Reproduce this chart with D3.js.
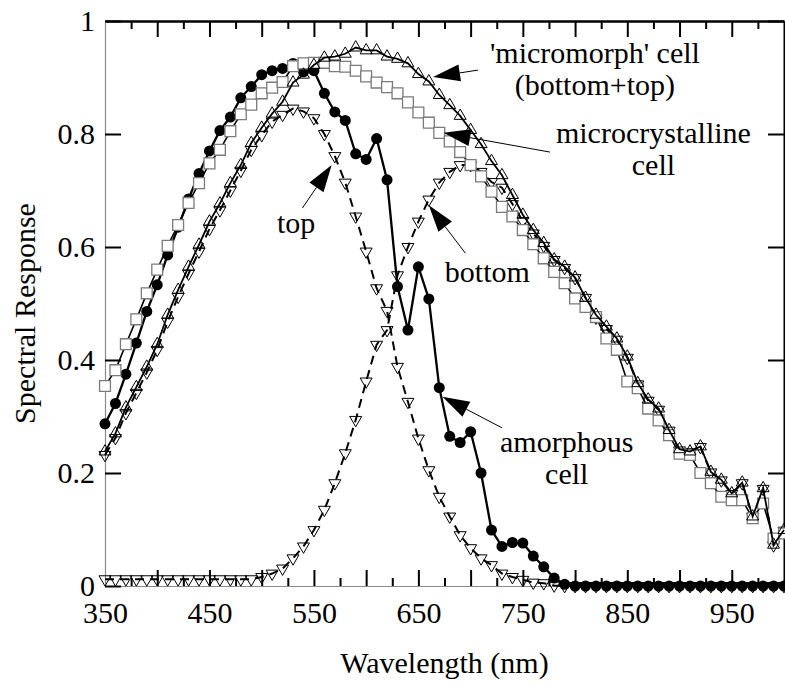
<!DOCTYPE html>
<html>
<head>
<meta charset="utf-8">
<script src="https://cdn.jsdelivr.net/npm/d3@7/dist/d3.min.js"></script>
<style>
  body { margin: 0; background: #fff; }
  svg text {
    font-family: "Liberation Serif", "Times New Roman", Times, Tinos, "Nimbus Roman", "Nimbus Roman No9 L",
      "Noto Serif", "DejaVu Serif", FreeSerif, serif !important;
    fill: #000;
  }
</style>
</head>
<body>
<div id="container"></div>
<script>
/* DATA */
const wavelengths = [350, 360, 370, 380, 390, 400, 410, 420, 430, 440,
  450, 460, 470, 480, 490, 500, 510, 520, 530, 540,
  550, 560, 570, 580, 590, 600, 610, 620, 630, 640,
  650, 660, 670, 680, 690, 700, 710, 720, 730, 740,
  750, 760, 770, 780, 790, 800, 810, 820, 830, 840,
  850, 860, 870, 880, 890, 900, 910, 920, 930, 940,
  950, 960, 970, 980, 990, 1000];

// amorphous cell (filled circles)
const amorphous = [0.287, 0.323, 0.375, 0.430, 0.486, 0.533, 0.586, 0.635, 0.685, 0.730,
  0.770, 0.806, 0.830, 0.864, 0.884, 0.905, 0.912, 0.916, 0.925, 0.910,
  0.912, 0.872, 0.839, 0.824, 0.765, 0.755, 0.792, 0.719, 0.530, 0.453,
  0.565, 0.508, 0.351, 0.265, 0.254, 0.273, 0.200, 0.099, 0.070, 0.077,
  0.076, 0.053, 0.034, 0.014, 0.003, 0, 0, 0, 0, 0,
  0, 0, 0, 0, 0, 0, 0, 0, 0, 0,
  0, 0, 0, 0, 0, 0];

// microcrystalline cell (open squares)
const microcrystalline = [0.354, 0.382, 0.428, 0.472, 0.518, 0.560, 0.602, 0.639, 0.678, 0.713,
  0.748, 0.772, 0.805, 0.835, 0.852, 0.872, 0.882, 0.892, 0.920, 0.925,
  0.926, 0.926, 0.920, 0.919, 0.912, 0.902, 0.891, 0.883, 0.872, 0.856,
  0.838, 0.820, 0.802, 0.787, 0.768, 0.745, 0.725, 0.698, 0.671, 0.654,
  0.630, 0.605, 0.580, 0.556, 0.536, 0.509, 0.494, 0.476, 0.438, 0.418,
  0.362, 0.350, 0.314, 0.293, 0.267, 0.234, 0.232, 0.200, 0.182, 0.158,
  0.152, 0.152, 0.120, 0.146, 0.084, 0.093];

// 'micromorph' cell, bottom+top (up triangles)
const micromorph = [0.238, 0.270, 0.316, 0.352, 0.388, 0.428, 0.480, 0.524, 0.565, 0.604,
  0.645, 0.677, 0.713, 0.745, 0.784, 0.811, 0.836, 0.857, 0.891, 0.905,
  0.922, 0.935, 0.937, 0.942, 0.953, 0.948, 0.948, 0.937, 0.933, 0.925,
  0.906, 0.893, 0.869, 0.851, 0.832, 0.807, 0.782, 0.752, 0.727, 0.692,
  0.657, 0.630, 0.607, 0.578, 0.565, 0.546, 0.510, 0.480, 0.459, 0.438,
  0.406, 0.359, 0.330, 0.314, 0.276, 0.242, 0.238, 0.247, 0.202, 0.188,
  0.164, 0.183, 0.123, 0.173, 0.073, 0.099];

// top cell (down triangles, dashed)
const topCell = [0.232, 0.262, 0.306, 0.342, 0.378, 0.418, 0.468, 0.512, 0.553, 0.592,
  0.632, 0.665, 0.700, 0.735, 0.772, 0.798, 0.822, 0.834, 0.845, 0.840,
  0.828, 0.800, 0.761, 0.714, 0.654, 0.592, 0.527, 0.487, 0.388, 0.326,
  0.261, 0.205, 0.158, 0.123, 0.090, 0.067, 0.049, 0.037, 0.022, 0.016,
  0.011, 0.006, 0.005, 0.001, 0, 0, 0, 0, 0, 0,
  0, 0, 0, 0, 0, 0, 0, 0, 0, 0,
  0, 0, 0, 0, 0, 0];

// bottom cell (down triangles, dashed)
const bottomCell = [0.012, 0.012, 0.012, 0.012, 0.012, 0.012, 0.012, 0.012, 0.012, 0.012,
  0.012, 0.012, 0.012, 0.012, 0.012, 0.016, 0.022, 0.031, 0.049, 0.070,
  0.099, 0.135, 0.182, 0.235, 0.294, 0.362, 0.427, 0.453, 0.550, 0.600,
  0.645, 0.684, 0.714, 0.733, 0.745, 0.745, 0.733, 0.715, 0.705, 0.676,
  0.646, 0.624, 0.602, 0.577, 0.563, 0.545, 0.510, 0.475, 0.455, 0.436,
  0.404, 0.357, 0.328, 0.312, 0.275, 0.240, 0.237, 0.246, 0.201, 0.187,
  0.163, 0.182, 0.122, 0.172, 0.072, 0.098];

// ticks
const xLabelTicks = [350, 450, 550, 650, 750, 850, 950];
const xMajorTicks = [400, 450, 500, 550, 600, 650, 700, 750, 800, 850, 900, 950];
const xMinorTicks = [375, 425, 475, 525, 575, 625, 675, 725, 775, 825, 875, 925, 975];
const yTicks = [0, 0.2, 0.4, 0.6, 0.8, 1];
const yTickLabels = ["0", "0.2", "0.4", "0.6", "0.8", "1"];

/* CONSTANTS */
const width = 785,
  height = 684,
  margin = {top: 21, bottom: 98, left: 105, right: 1},
  fontSize = 30;

/* SVG */
const svg = d3.select("#container")
  .append("svg")
  .attr("width", width)
  .attr("height", height);

/* SCALES */
const xScale = d3.scaleLinear()
  .domain([350, 1000])
  .range([margin.left, width - margin.right]);

const yScale = d3.scaleLinear()
  .domain([0, 1])
  .range([height - margin.bottom, margin.top]);

const x0 = xScale.range()[0], x1 = xScale.range()[1];
const y0 = yScale.range()[0], y1 = yScale.range()[1];

/* AXES */
function styleAxis(g, domainColor, domainWidth) {
  g.attr("font-family", null).attr("font-size", null);
  g.select(".domain").attr("stroke", domainColor).attr("stroke-width", domainWidth);
  g.selectAll(".tick line").attr("stroke", "#000").attr("stroke-width", 2);
  g.selectAll(".tick text")
    .style("font-size", fontSize + "px")
    .attr("fill", "#000");
}

// bottom: major (with labels) + minor
svg.append("g")
  .attr("transform", `translate(0,${y0})`)
  .call(d3.axisBottom(xScale).tickValues(xMinorTicks).tickSize(-8).tickSizeOuter(0).tickFormat(""))
  .call(g => styleAxis(g, "#8a8a8a", 1.2));

svg.append("g")
  .attr("transform", `translate(0,${y0})`)
  .call(d3.axisBottom(xScale).tickValues(xMajorTicks.concat([350])).tickSize(-16).tickSizeOuter(0).tickPadding(16)
    .tickFormat(d => xLabelTicks.includes(d) ? d : ""))
  .call(g => styleAxis(g, "#8a8a8a", 1.2))
  .call(g => g.selectAll(".tick").filter(d => d === 350).select("line").remove());

// top
svg.append("g")
  .attr("transform", `translate(0,${y1})`)
  .call(d3.axisTop(xScale).tickValues(xMinorTicks).tickSize(-8).tickSizeOuter(0).tickFormat(""))
  .call(g => styleAxis(g, "#000", 2));

svg.append("g")
  .attr("transform", `translate(0,${y1})`)
  .call(d3.axisTop(xScale).tickValues(xMajorTicks).tickSize(-16).tickSizeOuter(0).tickFormat(""))
  .call(g => styleAxis(g, "#000", 2));

// left
svg.append("g")
  .attr("transform", `translate(${x0},0)`)
  .call(d3.axisLeft(yScale).tickValues(yTicks).tickSize(-16).tickSizeOuter(0).tickPadding(10)
    .tickFormat((d, i) => yTickLabels[i]))
  .call(g => styleAxis(g, "#8a8a8a", 1.2));

// right
svg.append("g")
  .attr("transform", `translate(${x1},0)`)
  .call(d3.axisRight(yScale).tickValues(yTicks).tickSize(-16).tickSizeOuter(0).tickFormat(""))
  .call(g => styleAxis(g, "#000", 2));

/* SERIES */
const series = [
  {name: "top", values: topCell, symbol: "down", dash: "9,6", lineWidth: 2},
  {name: "bottom", values: bottomCell, symbol: "down", dash: "9,6", lineWidth: 2},
  {name: "amorphous", values: amorphous, symbol: "circle", dash: null, lineWidth: 2.3},
  {name: "microcrystalline", values: microcrystalline, symbol: "square", dash: null, lineWidth: 1.6},
  {name: "micromorph", values: micromorph, symbol: "up", dash: null, lineWidth: 1.8}
];

const line = d3.line()
  .x(d => xScale(d[0]))
  .y(d => yScale(d[1]));

const triangle = d3.symbol().type(d3.symbolTriangle).size(62);
const square = d3.symbol().type(d3.symbolSquare).size(118);

series.forEach(s => {
  const pts = wavelengths.map((w, i) => [w, s.values[i]]);
  const g = svg.append("g").attr("class", s.name);

  g.append("path")
    .datum(pts)
    .attr("d", line)
    .attr("fill", "none")
    .attr("stroke", "#000")
    .attr("stroke-width", s.lineWidth)
    .attr("stroke-dasharray", s.dash);

  const marks = g.selectAll(".mark")
    .data(pts)
    .join(s.symbol === "circle" ? "circle" : "path")
    .attr("class", "mark");

  if (s.symbol === "circle") {
    marks.attr("cx", d => xScale(d[0]))
      .attr("cy", d => yScale(d[1]))
      .attr("r", 5.5)
      .attr("fill", "#000");
  } else if (s.symbol === "square") {
    marks.attr("d", square)
      .attr("transform", d => `translate(${xScale(d[0])},${yScale(d[1])})`)
      .attr("fill", "#fff")
      .attr("stroke", "#7a7a7a")
      .attr("stroke-width", 1.3);
  } else {
    const rot = s.symbol === "down" ? 180 : 0;
    marks.attr("d", triangle)
      .attr("transform", d => `translate(${xScale(d[0])},${yScale(d[1])}) rotate(${rot})`)
      .attr("fill", "none")
      .attr("stroke", "#000")
      .attr("stroke-width", 1);
  }
});

/* ANNOTATIONS (positions in data units) */
const notes = [
  {lines: ["'micromorph' cell", "(bottom+top)"], at: [819, 0.926], tail: [707, 0.913], tip: [664, 0.901]},
  {lines: ["microcrystalline", "cell"], at: [875, 0.784], tail: [776, 0.768], tip: [674, 0.802]},
  {lines: ["bottom"], at: [716, 0.538], tail: [695, 0.589], tip: [660, 0.674]},
  {lines: ["top"], at: [533, 0.625], tail: [539, 0.669], tip: [567, 0.745]},
  {lines: ["amorphous", "cell"], at: [792, 0.237], tail: [730, 0.280], tip: [673, 0.335]}
];

const headLen = 27, headHalf = 8.5;

notes.forEach(n => {
  const tx = xScale(n.tip[0]), ty = yScale(n.tip[1]);
  const sx = xScale(n.tail[0]), sy = yScale(n.tail[1]);
  const len = Math.hypot(sx - tx, sy - ty);
  const ux = (sx - tx) / len, uy = (sy - ty) / len;
  const bx = tx + ux * headLen, by = ty + uy * headLen;

  svg.append("line")
    .attr("x1", bx).attr("y1", by)
    .attr("x2", sx).attr("y2", sy)
    .attr("stroke", "#000")
    .attr("stroke-width", 1);

  svg.append("path")
    .attr("d", `M${tx},${ty}L${bx - uy * headHalf},${by + ux * headHalf}L${bx + uy * headHalf},${by - ux * headHalf}Z`)
    .attr("fill", "#000");

  const text = svg.append("text")
    .attr("x", xScale(n.at[0]))
    .attr("y", yScale(n.at[1]))
    .attr("text-anchor", "middle")
    .style("font-size", fontSize + "px");

  n.lines.forEach((t, i) => {
    text.append("tspan")
      .attr("x", xScale(n.at[0]))
      .attr("dy", i === 0 ? 0 : 32)
      .text(t);
  });
});

/* AXIS TITLES */
svg.append("text")
  .attr("x", (x0 + x1) / 2)
  .attr("y", 673)
  .attr("text-anchor", "middle")
  .style("font-size", fontSize + "px")
  .text("Wavelength (nm)");

svg.append("text")
  .attr("transform", `translate(35,${(y0 + y1) / 2 + 10}) rotate(-90)`)
  .attr("text-anchor", "middle")
  .style("font-size", fontSize + "px")
  .text("Spectral Response");
</script>
</body>
</html>
